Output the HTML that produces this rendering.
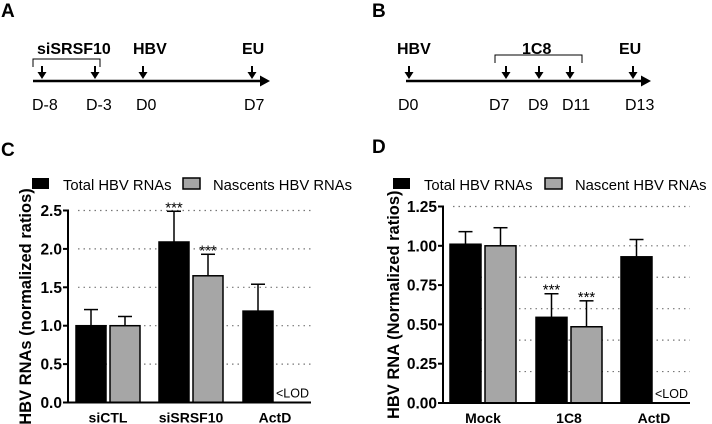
<!DOCTYPE html>
<html><head><meta charset="utf-8"><style>
body{margin:0;background:#fff}
svg{display:block;font-family:"Liberation Sans",Arial,sans-serif}
</style></head><body>
<svg width="712" height="424" viewBox="0 0 712 424">
<g font-weight="bold" font-size="19">
<text x="1" y="17">A</text>
<text x="372" y="17">B</text>
<text x="1" y="156">C</text>
<text x="372" y="153">D</text>
</g>
<g id="tlA"></g>
<g id="tlB"></g>
<g id="chartC"></g>
<g id="chartD"></g>
</svg>
<script>
const NS='http://www.w3.org/2000/svg';
function mk(p,t,a,txt){const e=document.createElementNS(NS,t);for(const k in a)e.setAttribute(k,a[k]);if(txt!==undefined)e.textContent=txt;p.appendChild(e);return e;}

function timeline(g,x0,x1,arrows,labels,tops,br){
  let e=mk(g,'line',{x1:x0,y1:81,x2:x1-8,y2:81,stroke:'#000','stroke-width':2.5});
  
  e=mk(g,'path',{d:`M${x1-10},75.5 L${x1},81 L${x1-10},86.5Z`,fill:'#000'});
  
  arrows.forEach((x,i)=>{
    let a=mk(g,'line',{x1:x,y1:66,x2:x,y2:75,stroke:'#000','stroke-width':2});
    
    a=mk(g,'path',{d:`M${x-4.5},72 L${x},79 L${x+4.5},72Z`,fill:'#000'});
    
    let t=mk(g,'text',{x:labels[i][1],y:110,'font-size':16},labels[i][0]);
    
  });
  tops.forEach(tp=>{let t=mk(g,'text',{x:tp[1],y:54,'font-size':16,'font-weight':'bold'},tp[0]);
    });
  let b=mk(g,'path',{d:`M${br[0]},${br[2]+8} L${br[0]},${br[2]} L${br[1]},${br[2]} L${br[1]},${br[2]+8}`,fill:'none',stroke:'#000','stroke-width':1});
  
}
timeline(document.getElementById('tlA'),33,270,[42,95,143,252],[['D-8',32],['D-3',86],['D0',136],['D7',244]],[['siSRSF10',37],['HBV',133],['EU',242]],[33,100,59]);
timeline(document.getElementById('tlB'),406,651,[409,506,539,570,633],[['D0',398],['D7',489],['D9',528],['D11',562],['D13',625]],[['HBV',397],['1C8',522],['EU',619]],[495,582,55]);

const catsC=['siCTL','siSRSF10','ActD'];
const totalC=[1.0,2.09,1.19];
const totalErrC=[0.21,0.40,0.35];
const nascC=[1.0,1.65,null];
const nascErrC=[0.12,0.28,null];
const ticksC=['0.0','0.5','1.0','1.5','2.0','2.5'];
const sigTotalC=['','***',''];
const sigNascC=['','***',''];
const catsD=['Mock','1C8','ActD'];
const totalD=[1.01,0.545,0.93];
const totalErrD=[0.08,0.15,0.11];
const nascD=[1.0,0.485,null];
const nascErrD=[0.115,0.165,null];
const ticksD=['0.00','0.25','0.50','0.75','1.00','1.25'];
const gridD=[0.2,0.4,0.6,0.8,1.0,1.25];
const sigTotalD=['','***',''];
const sigNascD=['','***',''];

function chart(g,o){
  const y=v=>o.y0-(v/o.max)*(o.y0-o.yTop);
  o.grid.forEach(v=>{let l=mk(g,'line',{x1:o.ax+10,x2:o.right,y1:y(v),y2:y(v),stroke:'#777','stroke-width':1.2,'stroke-dasharray':'1.5,4'});
    });
  o.cats.forEach((c,i)=>{
    const xs=[o.bx[i],o.bx[i]+o.bw+4];
    [[o.tot,o.te,'#000','total',o.st],[o.nas,o.ne,'#a6a6a6','nascent',o.sn]].forEach((s,j)=>{
      const v=s[0][i]; if(v===null) return;
      const x=xs[j], top=y(v), et=y(v+s[1][i]);
      let e=mk(g,'line',{x1:x+o.bw/2,x2:x+o.bw/2,y1:top,y2:et,stroke:'#000','stroke-width':1.5});
      
      e=mk(g,'line',{x1:x+o.bw/2-7,x2:x+o.bw/2+7,y1:et,y2:et,stroke:'#000','stroke-width':1.5});
      
      const r=mk(g,'rect',{x:x,y:top,width:o.bw,height:o.y0-top,fill:s[2],stroke:'#000','stroke-width':1.5});
      
      if(s[4][i]){const t=mk(g,'text',{x:x+o.bw/2,y:et+1,'text-anchor':'middle','font-size':15},s[4][i]);
        }
    });
    const t=mk(g,'text',{x:o.bx[i]+o.bw+2,y:o.y0+20,'text-anchor':'middle','font-size':14,'font-weight':'bold'},c);
    
  });
  let lod=mk(g,'text',{x:o.lodx,y:o.y0-5,'font-size':12.5},'<LOD');
  
  let a=mk(g,'line',{x1:o.ax,x2:o.ax,y1:o.yTop-1,y2:o.y0+1,stroke:'#000','stroke-width':2});
  
  a=mk(g,'line',{x1:o.ax,x2:o.right,y1:o.y0,y2:o.y0,stroke:'#000','stroke-width':2});
  
  o.ticks.forEach(tk=>{const v=parseFloat(tk);
    let l=mk(g,'line',{x1:o.ax-5,x2:o.ax,y1:y(v),y2:y(v),stroke:'#000','stroke-width':2});
    
    let t=mk(g,'text',{x:o.ax-6,y:y(v)+5.5,'text-anchor':'end','font-size':15.5,'font-weight':'bold'},tk);
    });
  let yt=mk(g,'text',{transform:`translate(${o.ytx},${(o.y0+o.yTop)/2}) rotate(-90)`,'text-anchor':'middle','font-size':16.5,'font-weight':'bold'},o.ytitle);
  
  let s=mk(g,'rect',{x:o.lg[0],y:178,width:17,height:11,fill:'#000'});
  
  let t=mk(g,'text',{x:o.lg[0]+31,y:190,'font-size':14.8},'Total HBV RNAs');
  
  s=mk(g,'rect',{x:o.lg[1],y:178,width:17,height:11,fill:'#a6a6a6',stroke:'#000','stroke-width':1.5});
  
  t=mk(g,'text',{x:o.lg[1]+30,y:190,'font-size':14.8},o.lgtext);
  
}
chart(document.getElementById('chartC'),{cats:catsC,tot:totalC,te:totalErrC,nas:nascC,ne:nascErrC,st:sigTotalC,sn:sigNascC,
  ticks:ticksC,grid:[0.5,1.0,1.5,2.0,2.5],max:2.5,y0:402.5,yTop:210.5,ax:68,right:311,bx:[76,159,243],bw:30,lodx:276,
  ytx:31,ytitle:'HBV RNAs (normalized ratios)',lg:[32,183],lgtext:'Nascents HBV RNAs'});
chart(document.getElementById('chartD'),{cats:catsD,tot:totalD,te:totalErrD,nas:nascD,ne:nascErrD,st:sigTotalD,sn:sigNascD,
  ticks:ticksD,grid:gridD,max:1.25,y0:403,yTop:206.5,ax:443,right:690,bx:[450,536,621],bw:31,lodx:655,
  ytx:399,ytitle:'HBV RNA (Normalized ratios)',lg:[393,545],lgtext:'Nascent HBV RNAs'});
</script>
</body></html>
